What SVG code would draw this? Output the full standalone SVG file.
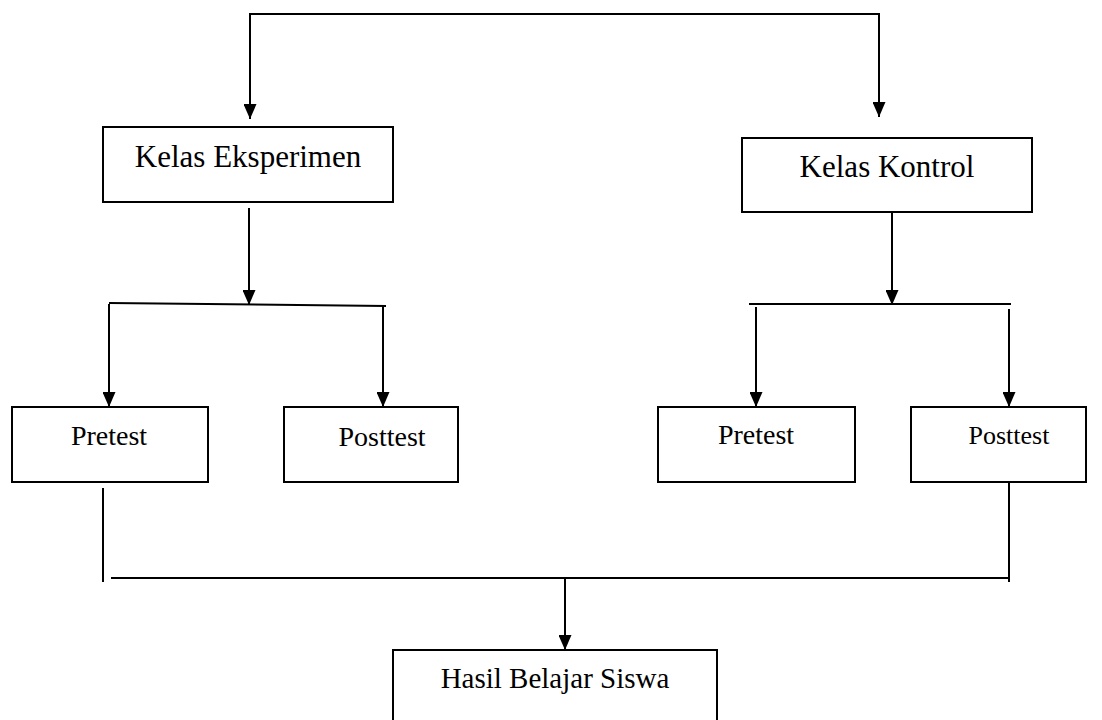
<svg xmlns="http://www.w3.org/2000/svg" width="1102" height="720" viewBox="0 0 1102 720">
<style>
.box{fill:#fff;stroke:#000;stroke-width:2}
.ln{fill:none;stroke:#000;stroke-width:2}
.t{fill:#000;text-anchor:middle}
</style>
<defs>
<marker id="ah" viewBox="0 0 15 13" refX="15" refY="6.5" markerWidth="15" markerHeight="13" orient="auto" markerUnits="userSpaceOnUse">
<path d="M0,0 L15,6.5 L0,13 z" fill="#000"/>
</marker>
</defs>
<rect width="1102" height="720" fill="#fff"/>
<g id="connectors">
<line class="ln" x1="249" y1="14" x2="880" y2="14" stroke-width="2.5"/>
<line class="ln" x1="250" y1="14" x2="250" y2="119" marker-end="url(#ah)"/>
<line class="ln" x1="879" y1="14" x2="879" y2="117" marker-end="url(#ah)"/>
<line class="ln" x1="249" y1="208" x2="249" y2="305" marker-end="url(#ah)"/>
<line class="ln" x1="109" y1="303" x2="386" y2="306"/>
<line class="ln" x1="109" y1="304" x2="109" y2="407" marker-end="url(#ah)"/>
<line class="ln" x1="383" y1="306" x2="383" y2="407" marker-end="url(#ah)"/>
<line class="ln" x1="892" y1="212" x2="892" y2="305" marker-end="url(#ah)"/>
<line class="ln" x1="749" y1="304" x2="1011" y2="304"/>
<line class="ln" x1="756" y1="307" x2="756" y2="407" marker-end="url(#ah)"/>
<line class="ln" x1="1009" y1="309" x2="1009" y2="407" marker-end="url(#ah)"/>
<line class="ln" x1="103" y1="488" x2="103" y2="582"/>
<line class="ln" x1="1009" y1="482" x2="1009" y2="582"/>
<line class="ln" x1="111" y1="578" x2="1009" y2="578"/>
<line class="ln" x1="565" y1="578" x2="565" y2="650" marker-end="url(#ah)"/>
</g>
<g id="kelas-eksperimen">
<rect class="box" x="103" y="127" width="290" height="75"/>
<text class="t" x="248" y="167" font-size="31" font-family="'Liberation Serif', 'Times New Roman', 'DejaVu Serif', serif">Kelas Eksperimen</text>
</g>
<g id="kelas-kontrol">
<rect class="box" x="742" y="138" width="290" height="74"/>
<text class="t" x="887" y="177" font-size="31" font-family="'Liberation Serif', 'Times New Roman', 'DejaVu Serif', serif">Kelas Kontrol</text>
</g>
<g id="pretest-eksperimen">
<rect class="box" x="12" y="407" width="196" height="75"/>
<text class="t" x="109" y="445" font-size="28" font-family="'Liberation Serif', 'Times New Roman', 'DejaVu Serif', serif">Pretest</text>
</g>
<g id="posttest-eksperimen">
<rect class="box" x="284" y="407" width="174" height="75"/>
<text class="t" x="382" y="446" font-size="28" font-family="'Liberation Serif', 'Times New Roman', 'DejaVu Serif', serif">Posttest</text>
</g>
<g id="pretest-kontrol">
<rect class="box" x="658" y="407" width="197" height="75"/>
<text class="t" x="756" y="444" font-size="28" font-family="'Liberation Serif', 'Times New Roman', 'DejaVu Serif', serif">Pretest</text>
</g>
<g id="posttest-kontrol">
<rect class="box" x="911" y="407" width="175" height="75"/>
<text class="t" x="1009" y="444" font-size="26" font-family="'Liberation Serif', 'Times New Roman', 'DejaVu Serif', serif">Posttest</text>
</g>
<g id="hasil-belajar">
<rect class="box" x="393" y="650" width="324" height="80"/>
<text class="t" x="555" y="688" font-size="29" font-family="'Liberation Serif', 'Times New Roman', 'DejaVu Serif', serif">Hasil Belajar Siswa</text>
</g>
</svg>
